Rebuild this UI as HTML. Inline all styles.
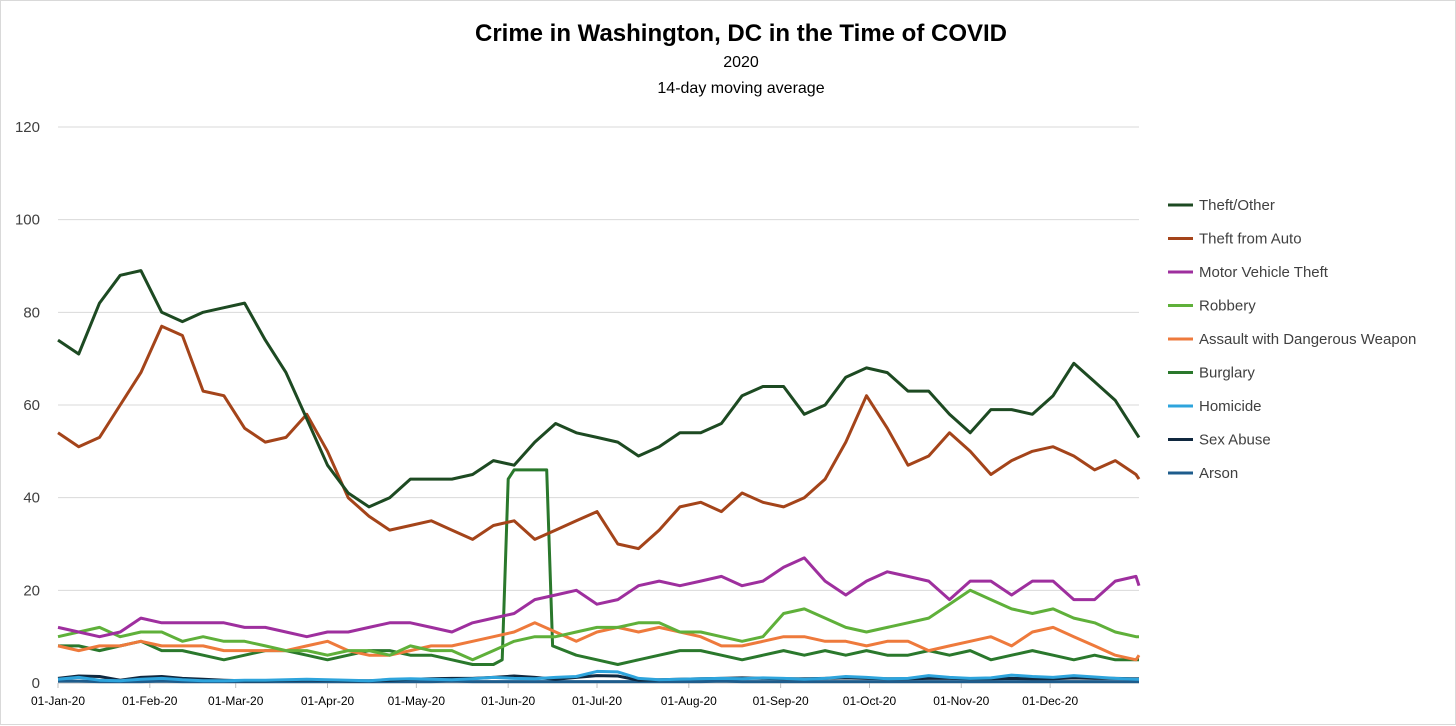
<!DOCTYPE html>
<html><head><meta charset="utf-8"><style>
body{margin:0;background:#fff;font-family:"Liberation Sans",sans-serif}
#wrap{position:relative;width:1456px;height:725px;box-sizing:border-box;border:1px solid #d9d9d9}
</style></head><body>
<div id="wrap">
<svg id="chart" width="1456" height="725" style="position:absolute;left:0;top:0">
<text x="740" y="40" text-anchor="middle" font-size="24" font-weight="bold" fill="#000">Crime in Washington, DC in the Time of COVID</text>
<text x="740" y="66" text-anchor="middle" font-size="16" fill="#000">2020</text>
<text x="740" y="92" text-anchor="middle" font-size="16" fill="#000">14-day moving average</text>
<g id="grid"></g><g id="series"></g><g id="legend"></g>
</svg>
</div>
<script>
const days=[0,7,14,21,28,35,42,49,56,63,70,77,84,91,98,105,112,119,126,133,140,147,154,161,168,175,182,189,196,203,210,217,224,231,238,245,252,259,266,273,280,287,294,301,308,315,322,329,336,343,350,357,364,365];
const theftOther=[74,71,82,88,89,80,78,80,81,82,74,67,57,47,41,38,40,44,44,44,45,48,47,52,56,54,53,52,49,51,54,54,56,62,64,64,58,60,66,68,67,63,63,58,54,59,59,58,62,69,65,61,54,53];
const theftAuto=[54,51,53,60,67,77,75,63,62,55,52,53,58,50,40,36,33,34,35,33,31,34,35,31,33,35,37,30,29,33,38,39,37,41,39,38,40,44,52,62,55,47,49,54,50,45,48,50,51,49,46,48,45,44];
const motorVehicle=[12,11,10,11,14,13,13,13,13,12,12,11,10,11,11,12,13,13,12,11,13,14,15,18,19,20,17,18,21,22,21,22,23,21,22,25,27,22,19,22,24,23,22,18,22,22,19,22,22,18,18,22,23,21];
const robbery=[10,11,12,10,11,11,9,10,9,9,8,7,7,6,7,7,6,8,7,7,5,7,9,10,10,11,12,12,13,13,11,11,10,9,10,15,16,14,12,11,12,13,14,17,20,18,16,15,16,14,13,11,10,10];
const assault=[8,7,8,8,9,8,8,8,7,7,7,7,8,9,7,6,6,7,8,8,9,10,11,13,11,9,11,12,11,12,11,10,8,8,9,10,10,9,9,8,9,9,7,8,9,10,8,11,12,10,8,6,5,6];
const burglaryDays=[0,7,14,21,28,35,42,49,56,63,70,77,84,91,98,105,112,119,126,133,140,147,150,152,154,161,165,167,175,182,189,196,203,210,217,224,231,238,245,252,259,266,273,280,287,294,301,308,315,322,329,336,343,350,357,364,365];
const burglary=[8,8,7,8,9,7,7,6,5,6,7,7,6,5,6,7,7,6,6,5,4,4,5,44,46,46,46,8,6,5,4,5,6,7,7,6,5,6,7,6,7,6,7,6,6,7,6,7,5,6,7,6,5,6,5,5,5];
const homicide=[0.8,1.2,0.6,0.5,0.8,1.0,0.7,0.5,0.5,0.6,0.6,0.7,0.8,0.7,0.6,0.5,0.8,0.9,0.8,0.7,0.9,1.2,1.0,0.9,1.2,1.4,2.5,2.4,1.0,0.7,0.8,0.9,1.0,0.9,1.1,1.0,0.8,1.0,1.4,1.2,0.9,1.0,1.6,1.2,1.0,1.1,1.7,1.4,1.2,1.6,1.3,1.0,0.8,0.8];
const sexAbuse=[1.0,1.5,1.4,0.6,1.2,1.4,1.0,0.8,0.6,0.5,0.5,0.6,0.7,0.6,0.5,0.5,0.6,0.8,0.9,1.0,1.0,1.2,1.5,1.2,0.8,1.2,1.6,1.5,0.6,0.7,0.8,0.9,1.0,1.1,1.0,0.9,0.9,1.0,1.1,1.0,0.9,0.9,1.0,1.0,0.9,0.9,1.0,0.9,0.9,1.1,1.0,1.0,0.9,0.9];
const arson=[0.4,0.4,0.3,0.3,0.3,0.4,0.3,0.3,0.3,0.3,0.3,0.3,0.3,0.3,0.3,0.3,0.3,0.3,0.3,0.4,0.3,0.3,0.3,0.3,0.3,0.3,0.3,0.3,0.3,0.3,0.3,0.3,0.4,0.3,0.3,0.3,0.3,0.3,0.3,0.3,0.3,0.3,0.3,0.3,0.3,0.3,0.3,0.3,0.3,0.3,0.3,0.3,0.3,0.3];
const yTicks=[0,20,40,60,80,100,120];
const xTickDays=[0,31,60,91,121,152,182,213,244,274,305,335];
const xTickLabels=["01-Jan-20","01-Feb-20","01-Mar-20","01-Apr-20","01-May-20","01-Jun-20","01-Jul-20","01-Aug-20","01-Sep-20","01-Oct-20","01-Nov-20","01-Dec-20"];
const seriesNames=["Theft/Other","Theft from Auto","Motor Vehicle Theft","Robbery","Assault with Dangerous Weapon","Burglary","Homicide","Sex Abuse","Arson"];
const seriesColors=["#1d4a22","#a4441a","#9e2f9e","#5fb03a","#ee7a3c","#2a782c","#2ea4dc","#10283f","#1e5c8c"];

const X0=57,X1=1138,Y0=682,Y1=126;
const xs=d=>X0+d*(X1-X0)/365;
const ys=v=>Y0-v*(Y0-Y1)/120;
const NS="http://www.w3.org/2000/svg";
function mk(tag,attrs,parent){const e=document.createElementNS(NS,tag);for(const k in attrs)e.setAttribute(k,attrs[k]);parent.appendChild(e);return e;}
const grid=document.getElementById('grid');
yTicks.forEach(t=>{
  if(t>0){const l=mk('line',{x1:X0,x2:X1,y1:ys(t),y2:ys(t),stroke:'#d9d9d9','stroke-width':1},grid);
  
  }
  const tx=mk('text',{x:39,y:ys(t)+5,'text-anchor':'end','font-size':15,fill:'#404040'},grid);tx.textContent=t;
  
  
});
const ax=mk('line',{x1:X0,x2:X1,y1:Y0,y2:Y0,stroke:'#bfbfbf','stroke-width':1},grid);


xTickDays.forEach((d,i)=>{
  mk('line',{x1:xs(d),x2:xs(d),y1:Y0,y2:Y0+5,stroke:'#bfbfbf'},grid);
  const tx=mk('text',{x:xs(d),y:704,'text-anchor':'middle','font-size':12,fill:'#000'},grid);tx.textContent=xTickLabels[i];
  
  
});
const sg=document.getElementById('series');
const allData=[[days,theftOther],[days,theftAuto],[days,motorVehicle],[days,robbery],[days,assault],[burglaryDays,burglary],[days,homicide],[days,sexAbuse],[days,arson]];
const order=[8,7,6,5,4,3,2,1,0];
order.forEach(i=>{
  const [dd,vv]=allData[i];
  const pts=dd.map((d,j)=>xs(d).toFixed(1)+','+ys(vv[j]).toFixed(1)).join(' ');
  const p=mk('polyline',{points:pts,fill:'none',stroke:seriesColors[i],'stroke-width':3,'stroke-linejoin':'round'},sg);
  
  
});
const lg=document.getElementById('legend');
seriesNames.forEach((n,i)=>{
  const y=204+i*33.5;
  const g=mk('g',{},lg);
  
  
  mk('line',{x1:1167,x2:1192,y1:y,y2:y,stroke:seriesColors[i],'stroke-width':3},g);
  const t=mk('text',{x:1198,y:y+5,'font-size':15,fill:'#404040'},g);t.textContent=n;
});
</script>
</body></html>
